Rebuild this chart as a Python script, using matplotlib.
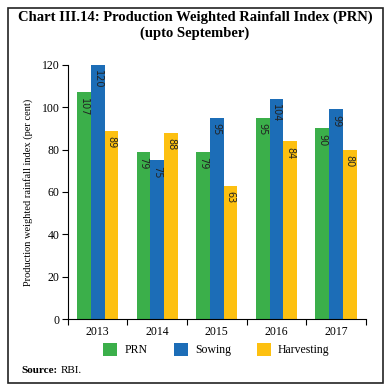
import numpy as np
import matplotlib.pyplot as plt
from matplotlib.patches import Rectangle

# Datos
years = ["2013", "2014", "2015", "2016", "2017"]
prn = [107, 79, 79, 95, 90]
sowing = [120, 75, 95, 104, 99]
harvesting = [89, 88, 63, 84, 80]

series = [("PRN", prn, "#3BAF4A"), ("Sowing", sowing, "#1C6DB7"), ("Harvesting", harvesting, "#FDC010")]

fig = plt.figure(figsize=(3.9, 3.91), dpi=100)
ax = fig.add_axes([0.174, 0.184, 0.764, 0.65])

x = np.arange(len(years))
w = 0.23
for i, (name, vals, col) in enumerate(series):
    pos = x + (i - 1) * w
    ax.bar(pos, vals, width=w, color=col, label=name)
    for p, v in zip(pos, vals):
        ax.annotate(str(v), (p, v), xytext=(0, -4), textcoords="offset points",
                    rotation=270, ha="center", va="top", fontsize=7, color="#222222",
                    family="DejaVu Sans")

ax.set_xlim(-0.5, len(years) - 0.5)
ax.set_ylim(0, 120)
ax.set_yticks(range(0, 121, 20))
ax.set_xticks(x)
ax.set_xticklabels(years, family="Liberation Serif", fontsize=8.5)
ax.tick_params(axis="x", length=0, pad=5)
for t in ax.get_yticklabels():
    t.set_family("Liberation Serif")
    t.set_fontsize(8.5)
ax.tick_params(axis="y", length=4, width=0.8, pad=2)
# ticks entre categorias
ax.set_xticks(np.arange(-0.5, len(years)), minor=True)
ax.tick_params(axis="x", which="minor", length=4, width=0.8, direction="out")
ax.spines["top"].set_visible(False)
ax.spines["right"].set_visible(False)
ax.set_ylabel("Production weighted rainfall index (per cent)", family="Liberation Serif", fontsize=7.5,
              labelpad=6)

fig.text(0.5, 0.955, "Chart III.14: Production Weighted Rainfall Index (PRN)",
         ha="center", va="center", family="Liberation Serif", fontweight="bold", fontsize=10.5)
fig.text(0.5, 0.915, "(upto September)", ha="center", va="center",
         family="Liberation Serif", fontweight="bold", fontsize=10.5)

fig.legend(loc="center", bbox_to_anchor=(0.555, 0.105), ncol=3, frameon=False,
           prop={"family": "Liberation Serif", "size": 8.5}, handlelength=1.2,
           handleheight=1.2, columnspacing=2.2, handletextpad=0.6)

fig.text(0.055, 0.052, "Source:", fontweight="bold", family="Liberation Serif", fontsize=8, va="center")
fig.text(0.155, 0.052, "RBI.", family="Liberation Serif", fontsize=8, va="center")

fig.patches.append(Rectangle((0.021, 0.021), 0.962, 0.958, transform=fig.transFigure,
                             fill=False, edgecolor="#222222", linewidth=1.2))

plt.savefig("out.png", dpi=100)
